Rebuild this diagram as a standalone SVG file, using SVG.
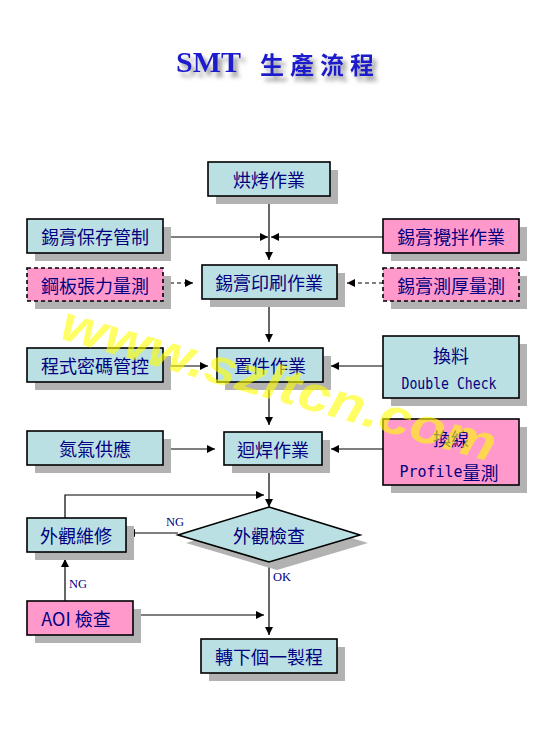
<svg xmlns="http://www.w3.org/2000/svg" width="550" height="750" viewBox="0 0 550 750">
<defs>
<style>
.box{stroke:#000;stroke-width:1.6}
.teal{fill:#bbe0e3}
.pink{fill:#ff99cc}
.dash{stroke-dasharray:4 3}
.sh{fill:#b2b2b2}
.t{font-family:"Noto Sans CJK TC","Noto Sans CJK SC",sans-serif;font-size:18px;fill:#000080;text-anchor:middle;dominant-baseline:central}
.m{font-family:"DejaVu Sans Mono","Liberation Mono",monospace;font-size:15px;fill:#000080;text-anchor:middle;dominant-baseline:central}
.lbl{font-family:"Liberation Serif",serif;font-size:12.5px;fill:#000080}
.ln{stroke:#000;stroke-width:1.2;fill:none}
</style>
<marker id="ah" viewBox="0 0 10 10" refX="10" refY="5" markerWidth="8" markerHeight="8" markerUnits="userSpaceOnUse" orient="auto">
<path d="M0,0 L10,5 L0,10 z" fill="#000"/>
</marker>
<filter id="ds" x="-20%" y="-50%" width="140%" height="200%">
<feGaussianBlur in="SourceAlpha" stdDeviation="2"/>
<feOffset dx="4" dy="5" result="o"/>
<feFlood flood-color="#808080" flood-opacity="0.8"/>
<feComposite in2="o" operator="in"/>
<feMerge><feMergeNode/><feMergeNode in="SourceGraphic"/></feMerge>
</filter>
</defs>
<rect width="550" height="750" fill="#fff"/>

<g id="title" filter="url(#ds)" fill="#1a1acc">
<text x="176" y="72" font-family="Liberation Serif,serif" font-weight="bold" font-size="30">SMT</text>
<text x="260" y="74" font-family="Noto Sans CJK TC,sans-serif" font-weight="bold" font-size="24" letter-spacing="6">生產流程</text>
</g>

<g id="connectors">
<line class="ln" x1="269" y1="196" x2="269" y2="260" marker-end="url(#ah)"/>
<line class="ln" x1="163" y1="237" x2="268" y2="237" marker-end="url(#ah)"/>
<line class="ln" x1="383" y1="237" x2="271" y2="237" marker-end="url(#ah)"/>
<line class="ln dash" x1="163" y1="283" x2="193" y2="283" marker-end="url(#ah)"/>
<line class="ln dash" x1="383" y1="283" x2="347" y2="283" marker-end="url(#ah)"/>
<line class="ln" x1="269" y1="299" x2="269" y2="342" marker-end="url(#ah)"/>
<line class="ln" x1="163" y1="366" x2="208" y2="366" marker-end="url(#ah)"/>
<line class="ln" x1="383" y1="366" x2="331" y2="366" marker-end="url(#ah)"/>
<line class="ln" x1="269" y1="382" x2="269" y2="425" marker-end="url(#ah)"/>
<line class="ln" x1="163" y1="449" x2="215" y2="449" marker-end="url(#ah)"/>
<line class="ln" x1="383" y1="449" x2="331" y2="449" marker-end="url(#ah)"/>
<line class="ln" x1="269" y1="465" x2="269" y2="507" marker-end="url(#ah)"/>
<polyline class="ln" points="65,518 65,495 264,495" marker-end="url(#ah)"/>
<line class="ln" x1="178" y1="533" x2="127" y2="533" marker-end="url(#ah)"/>
<line class="ln" x1="65" y1="601" x2="65" y2="559" marker-end="url(#ah)"/>
<line class="ln" x1="134" y1="615" x2="264" y2="615" marker-end="url(#ah)"/>
<line class="ln" x1="269" y1="562" x2="269" y2="635" marker-end="url(#ah)"/>
<text class="lbl" x="166" y="526">NG</text>
<text class="lbl" x="69" y="588">NG</text>
<text class="lbl" x="273" y="581">OK</text>
</g>

<g id="n_bake">
<rect class="sh" x="216" y="170" width="122" height="34"/>
<rect class="box teal" x="208" y="162" width="122" height="34"/>
<text class="t" x="269" y="179">烘烤作業</text>
</g>
<g id="n_store">
<rect class="sh" x="35" y="227" width="136" height="34"/>
<rect class="box teal" x="27" y="219" width="136" height="34"/>
<text class="t" x="95" y="236">錫膏保存管制</text>
</g>
<g id="n_mix">
<rect class="sh" x="391" y="227" width="136" height="34"/>
<rect class="box pink" x="383" y="219" width="136" height="34"/>
<text class="t" x="451" y="236">錫膏攪拌作業</text>
</g>
<g id="n_tension">
<rect class="sh" x="35" y="276" width="136" height="33"/>
<rect class="box pink dash" x="27" y="268" width="136" height="33"/>
<text class="t" x="95" y="284.5">鋼板張力量測</text>
</g>
<g id="n_print">
<rect class="sh" x="210" y="273" width="135" height="34"/>
<rect class="box teal" x="202" y="265" width="135" height="34"/>
<text class="t" x="269" y="282">錫膏印刷作業</text>
</g>
<g id="n_thick">
<rect class="sh" x="391" y="276" width="136" height="33"/>
<rect class="box pink dash" x="383" y="268" width="136" height="33"/>
<text class="t" x="451" y="284.5">錫膏測厚量測</text>
</g>
<g id="n_pwd">
<rect class="sh" x="35" y="356" width="136" height="34"/>
<rect class="box teal" x="27" y="348" width="136" height="34"/>
<text class="t" x="95" y="365">程式密碼管控</text>
</g>
<g id="n_place">
<rect class="sh" x="225" y="356" width="106" height="34"/>
<rect class="box teal" x="217" y="348" width="106" height="34"/>
<text class="t" x="270" y="365">置件作業</text>
</g>
<g id="n_change">
<rect class="sh" x="391" y="344" width="136" height="62"/>
<rect class="box teal" x="383" y="336" width="136" height="62"/>
<text class="t" x="451" y="355">換料</text>
<text class="m" x="449" y="384" textLength="95" lengthAdjust="spacingAndGlyphs">Double Check</text>
</g>
<g id="n_n2">
<rect class="sh" x="35" y="439" width="136" height="34"/>
<rect class="box teal" x="27" y="431" width="136" height="34"/>
<text class="t" x="95" y="448">氮氣供應</text>
</g>
<g id="n_reflow">
<rect class="sh" x="232" y="440" width="98" height="33"/>
<rect class="box teal" x="224" y="432" width="98" height="33"/>
<text class="t" x="273" y="448.5">迴焊作業</text>
</g>
<g id="n_line">
<rect class="sh" x="391" y="427" width="136" height="66"/>
<rect class="box pink" x="383" y="419" width="136" height="66"/>
<text class="t" x="451" y="438">換線</text>
<text class="t" x="449" y="472"><tspan class="m" textLength="63" lengthAdjust="spacingAndGlyphs">Profile</tspan>量測</text>
</g>
<g id="n_visual">
<polygon points="277,515 368,543 277,570 186,543" class="sh"/>
<polygon points="269,507 360,535 269,562 178,535" class="box teal"/>
<text class="t" x="269" y="535">外觀檢查</text>
</g>
<g id="n_repair">
<rect class="sh" x="35" y="526" width="99" height="34"/>
<rect class="box teal" x="27" y="518" width="99" height="34"/>
<text class="t" x="76" y="535">外觀維修</text>
</g>
<g id="n_aoi">
<rect class="sh" x="35" y="609" width="106" height="34"/>
<rect class="box pink" x="27" y="601" width="106" height="34"/>
<text class="t" x="76" y="618">AOI 檢查</text>
</g>
<g id="n_next">
<rect class="sh" x="209" y="647" width="136" height="34"/>
<rect class="box teal" x="201" y="639" width="136" height="34"/>
<text class="t" x="269" y="656">轉下個一製程</text>
</g>

<g id="watermark">
<text transform="translate(58,338) rotate(16)" x="0" y="0" font-family="Liberation Sans,Arial,sans-serif" font-style="italic" font-weight="bold" font-size="50" fill="#ffff00" opacity="0.6" textLength="450" lengthAdjust="spacingAndGlyphs">www.szltcn.com</text>
</g>
</svg>
